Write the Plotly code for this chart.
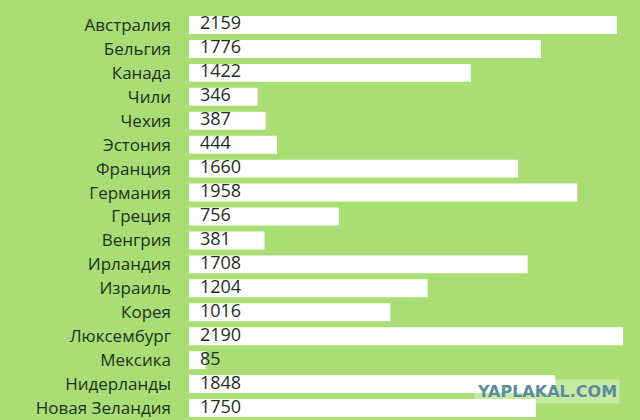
import plotly.graph_objects as go

countries = ["Австралия", "Бельгия", "Канада", "Чили", "Чехия", "Эстония",
             "Франция", "Германия", "Греция", "Венгрия", "Ирландия", "Израиль",
             "Корея", "Люксембург", "Мексика", "Нидерланды", "Новая Зеландия"]
values = [2159, 1776, 1422, 346, 387, 444, 1660, 1958, 756, 381, 1708, 1204,
          1016, 2190, 85, 1848, 1750]

bg = "#a9de74"
ink = "#1f2f22"

fig = go.Figure()

fig.add_trace(go.Bar(
    y=countries, x=values, orientation="h",
    marker=dict(color="white", line=dict(width=0)),
    hoverinfo="skip",
))

# value labels sitting just inside the left end of each bar
fig.add_trace(go.Scatter(
    y=countries, x=[55] * len(values), mode="text",
    text=[str(v) for v in values], textposition="middle right",
    textfont=dict(family="Open Sans", size=18, color=ink),
    hoverinfo="skip",
))

fig.update_layout(
    width=640, height=420,
    paper_bgcolor=bg, plot_bgcolor=bg,
    margin=dict(l=189, r=0, t=13, b=0),
    bargap=0.25,
    showlegend=False,
    xaxis=dict(range=[0, 2275], visible=False, fixedrange=True),
    yaxis=dict(range=[len(countries) - 0.5, -0.5], showgrid=False,
               zeroline=False, ticks="", ticklabelstandoff=17,
               tickfont=dict(family="Open Sans", size=17, color=ink)),
    annotations=[dict(
        text="<b>YAPLAKAL.COM</b>", xref="paper", yref="paper",
        x=0.955, y=0.07, xanchor="right", yanchor="middle", showarrow=False,
        font=dict(family="DejaVu Sans", size=16, color="#5b8e9c"),
        bgcolor="rgba(255,255,255,0.35)", borderpad=2,
    )],
)

fig.write_html("out.html", config={"displayModeBar": False},
               post_script="document.body.style.margin='0';")
